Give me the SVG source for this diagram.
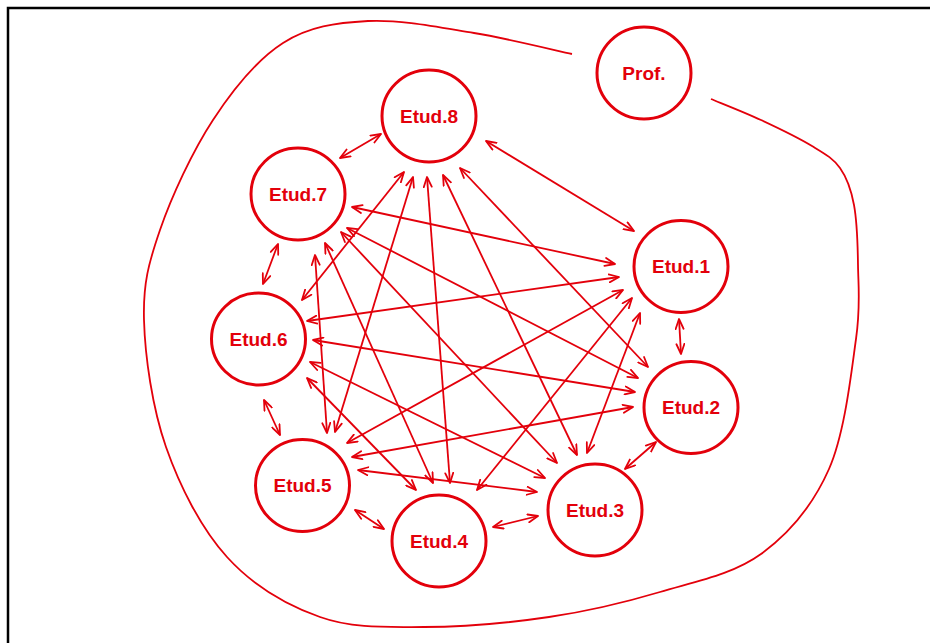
<svg xmlns="http://www.w3.org/2000/svg" width="930" height="643" viewBox="0 0 930 643">
<defs>
<marker id="ah" viewBox="0 0 12 10" refX="11" refY="5" markerWidth="12" markerHeight="10" markerUnits="userSpaceOnUse" orient="auto-start-reverse">
<path d="M1,1 L11,5 L1,9" fill="none" stroke="#e3000b" stroke-width="1.8" stroke-linecap="round" stroke-linejoin="round"/>
</marker>
<style>
.node ellipse{fill:#ffffff;stroke:#e3000b;stroke-width:3}
.node text{font-family:"Liberation Sans",Arial,sans-serif;font-weight:bold;font-size:19px;fill:#e3000b;text-anchor:middle}
#connectors line{stroke:#e3000b;stroke-width:1.8;marker-start:url(#ah);marker-end:url(#ah)}
.boundary{fill:none;stroke:#e3000b;stroke-width:1.8}
</style>
</defs>
<rect x="0" y="0" width="930" height="643" fill="#ffffff"/>
<rect x="8" y="8" width="1000" height="1000" fill="none" stroke="#000000" stroke-width="2.5"/>
<path class="boundary" d="M572,54 C555.7,50.5 508,38.5 474,33 C440,27.5 399.8,19.3 368,21 C336.2,22.7 308.8,26.5 283,43 C257.2,59.5 233.5,88.8 213,120 C192.5,151.2 171.5,196.7 160,230 C148.5,263.3 143,283.8 144,320 C145,356.2 152.2,407.5 166,447 C179.8,486.5 201.3,528.7 227,557 C252.7,585.3 287.2,605.3 320,617 C352.8,628.7 385.8,627 424,627 C462.2,627 509.7,622.8 549,617 C588.3,611.2 624.7,602.5 660,592 C695.3,581.5 732.8,574.5 761,554 C789.2,533.5 813.2,504.8 829,469 C844.8,433.2 851.2,373 856,339 C860.8,305 858.3,287.3 858,265 C857.7,242.7 857,221.2 854,205 C851,188.8 847,177.8 840,168 C833,158.2 825.2,154 812,146 C798.8,138 777.8,127.8 761,120 C744.2,112.2 719.3,102.5 711,99"/>
<g id="connectors">
<line x1="381" y1="134" x2="340" y2="158"/>
<line x1="486" y1="141" x2="634" y2="231"/>
<line x1="679" y1="319" x2="681" y2="354"/>
<line x1="656" y1="442" x2="625" y2="469"/>
<line x1="538" y1="516" x2="493" y2="527"/>
<line x1="384" y1="529" x2="355" y2="510"/>
<line x1="264" y1="400" x2="280" y2="435"/>
<line x1="263" y1="284" x2="278" y2="244"/>
<line x1="404" y1="172" x2="302" y2="300"/>
<line x1="413" y1="177" x2="335" y2="432"/>
<line x1="427" y1="177" x2="450" y2="483"/>
<line x1="443" y1="175" x2="577" y2="455"/>
<line x1="460" y1="168" x2="648" y2="367"/>
<line x1="352" y1="207" x2="615" y2="264"/>
<line x1="347" y1="228" x2="638" y2="378"/>
<line x1="341" y1="232" x2="557" y2="463"/>
<line x1="325" y1="243" x2="433" y2="483"/>
<line x1="315" y1="255" x2="327" y2="433"/>
<line x1="307" y1="321" x2="619" y2="277"/>
<line x1="313" y1="340" x2="635" y2="392"/>
<line x1="310" y1="362" x2="545" y2="478"/>
<line x1="307" y1="378" x2="416" y2="490"/>
<line x1="347" y1="443" x2="623" y2="290"/>
<line x1="352" y1="457" x2="633" y2="407"/>
<line x1="358" y1="470" x2="537" y2="492"/>
<line x1="477" y1="490" x2="632" y2="298"/>
<line x1="587" y1="453" x2="640" y2="313"/>
</g>
<g id="prof" class="node"><ellipse cx="644" cy="73" rx="47" ry="46"/><text x="644" y="80">Prof.</text></g>
<g id="etud8" class="node"><ellipse cx="429" cy="116" rx="47" ry="46"/><text x="429" y="123">Etud.8</text></g>
<g id="etud7" class="node"><ellipse cx="298" cy="194" rx="47" ry="46"/><text x="298" y="201">Etud.7</text></g>
<g id="etud1" class="node"><ellipse cx="681" cy="266.5" rx="47" ry="46"/><text x="681" y="273">Etud.1</text></g>
<g id="etud6" class="node"><ellipse cx="258.5" cy="339" rx="47" ry="46"/><text x="258.5" y="346">Etud.6</text></g>
<g id="etud2" class="node"><ellipse cx="691" cy="407.5" rx="47" ry="46"/><text x="691" y="414">Etud.2</text></g>
<g id="etud5" class="node"><ellipse cx="302.5" cy="485.5" rx="47" ry="46"/><text x="302.5" y="492">Etud.5</text></g>
<g id="etud3" class="node"><ellipse cx="595" cy="510" rx="47" ry="46"/><text x="595" y="517">Etud.3</text></g>
<g id="etud4" class="node"><ellipse cx="439" cy="541" rx="47" ry="46"/><text x="439" y="548">Etud.4</text></g>
</svg>
